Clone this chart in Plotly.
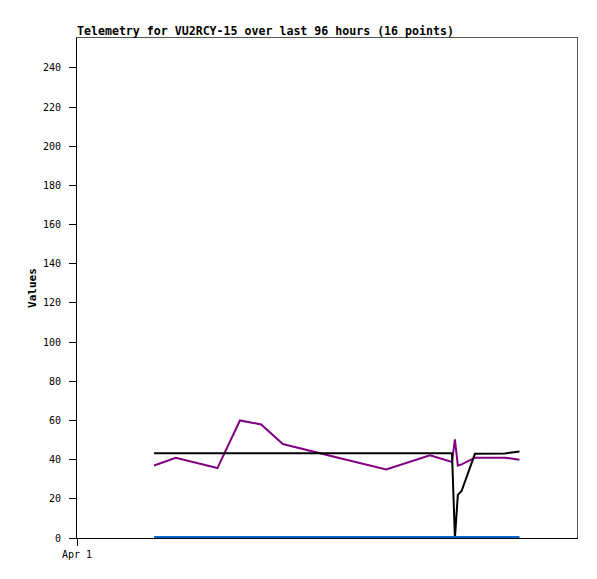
import plotly.graph_objects as go

FONT = "DejaVu Sans Mono, Liberation Mono, monospace"

times = [
    "2024-04-01 18:30", "2024-04-01 23:42", "2024-04-02 09:42", "2024-04-02 15:06",
    "2024-04-02 20:12", "2024-04-03 01:24", "2024-04-03 13:42", "2024-04-04 02:12",
    "2024-04-04 12:42", "2024-04-04 18:00", "2024-04-04 18:42", "2024-04-04 19:24",
    "2024-04-04 20:18", "2024-04-04 23:30", "2024-04-05 06:42", "2024-04-05 10:12",
]
purple_vals = [37, 41, 35.7, 60, 58, 48, 41.5, 35, 42.2, 38.8, 50.4, 36.9, 37.6, 41, 41, 40]
black_vals = [43.3, 43.3, 43.3, 43.3, 43.3, 43.3, 43.3, 43.3, 43.3, 43.3, 0, 22, 24, 43, 43.2, 44.2]
blue_vals = [0] * 16

x_range = ["2024-04-01 00:00", "2024-04-06 00:00"]
y_range = [0, 255.3]
y_ticks = list(range(0, 241, 20))

fig = go.Figure()
fig.add_trace(go.Scatter(x=times, y=purple_vals, mode="lines",
                         line={"color": "#800080", "width": 2}))
fig.add_trace(go.Scatter(x=times, y=black_vals, mode="lines",
                         line={"color": "#000000", "width": 2}))
fig.add_trace(go.Scatter(x=times, y=blue_vals, mode="lines",
                         line={"color": "#0066cc", "width": 4}))

# page body has an 8px margin, so the figure is sized/shifted to compensate
W, H = 589, 571
fig.update_layout(
    width=W,
    height=H,
    showlegend=False,
    plot_bgcolor="white",
    paper_bgcolor="white",
    margin={"l": 69, "r": 20, "t": 30, "b": 41},
    font={"family": FONT, "size": 10, "color": "black"},
    title={
        "text": "<b>Telemetry for VU2RCY-15 over last 96 hours (16 points)</b>",
        "x": 69 / W, "xanchor": "left",
        "y": 1 - 23 / H, "yanchor": "middle",
        "font": {"family": FONT, "size": 11.6, "color": "black"},
    },
    xaxis={
        "type": "date",
        "range": x_range,
        "tickvals": ["2024-04-01 00:00"],
        "ticktext": ["Apr 1"],
        "ticks": "outside",
        "ticklen": 7,
        "tickcolor": "black",
        "showgrid": False,
        "zeroline": False,
        "showline": True,
        "linecolor": "black",
    },
    yaxis={
        "range": y_range,
        "tickvals": y_ticks,
        "ticktext": [f"{v} " for v in y_ticks],
        "ticks": "outside",
        "ticklen": 7,
        "tickwidth": 1,
        "tickcolor": "black",
        "showgrid": False,
        "zeroline": False,
        "showline": True,
        "linecolor": "black",
        "title": {"text": "<b>Values</b>", "standoff": 4,
                  "font": {"family": FONT, "size": 11}},
    },
    # gray top/right frame lines
    xaxis2={
        "overlaying": "x", "side": "top", "matches": "x",
        "showline": True, "linecolor": "#555555",
        "showticklabels": False, "ticks": "", "showgrid": False, "zeroline": False,
    },
    yaxis2={
        "overlaying": "y", "side": "right", "matches": "y",
        "showline": True, "linecolor": "#555555",
        "showticklabels": False, "ticks": "", "showgrid": False, "zeroline": False,
    },
)
fig.add_trace(go.Scatter(x=[], y=[], xaxis="x2", yaxis="y2", showlegend=False))

fig.write_html("out.html")
